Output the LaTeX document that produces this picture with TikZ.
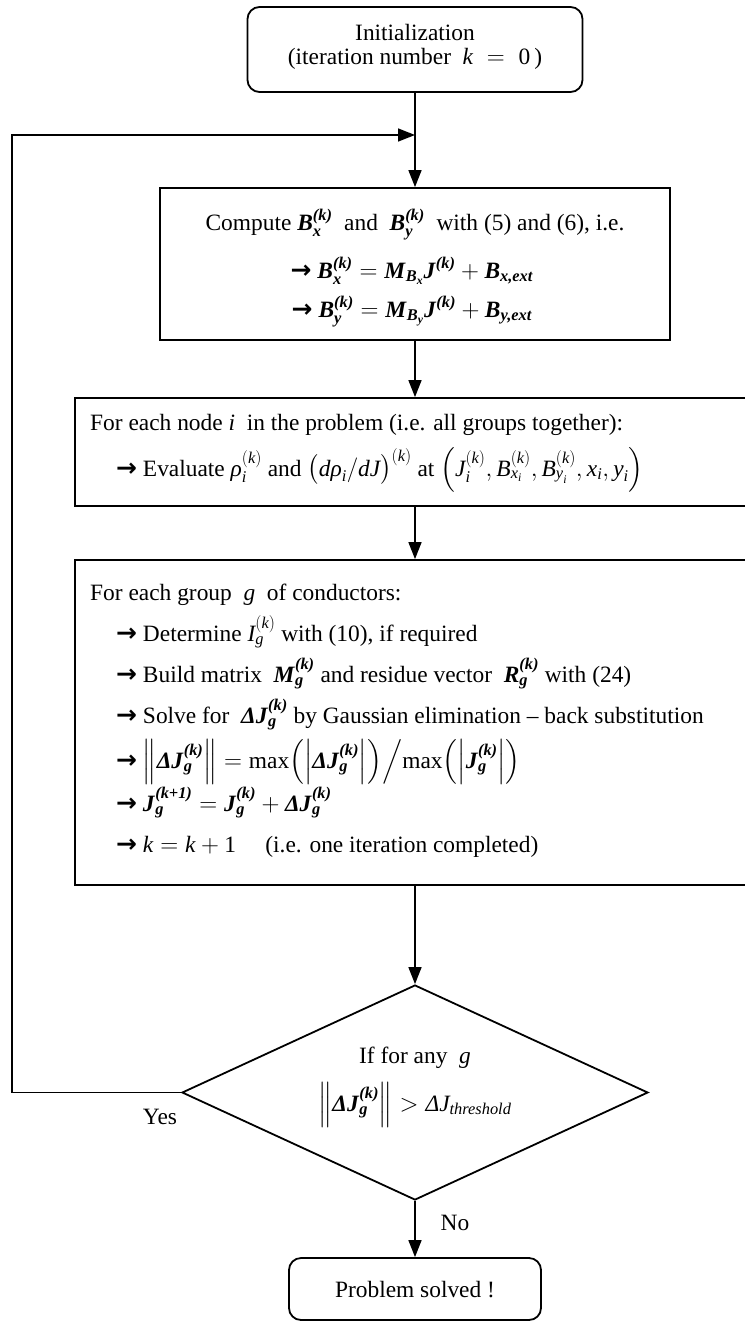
\documentclass[tikz,border=0pt]{standalone}
\usepackage{amsmath}
\usepackage{fontspec}
\setmainfont{Liberation Serif}
\newfontfamily\arrowfont{DejaVu Sans}
\usetikzlibrary{arrows.meta,shapes.geometric}
\newcommand{\bi}[1]{\textbf{\textit{#1}}}
\newcommand{\ti}[1]{\textit{#1}}
\newcommand{\rarr}{{\arrowfont\bfseries\fontsize{25}{25}\selectfont →}\ }
\begin{document}
\begin{tikzpicture}[x=1pt,y=-1pt,
  font=\fontsize{23.4}{25}\selectfont,
  box/.style={draw, line width=1.8pt, inner sep=0pt},
  rbox/.style={box, rounded corners=12pt},
  conn/.style={line width=1.5pt, -{Triangle[length=17pt,width=13pt]}},
  txt/.style={inner sep=0pt, anchor=base west},
  ctxt/.style={inner sep=0pt, anchor=base}]
\useasboundingbox (0,0) rectangle (744,1322);

% boxes
\node[rbox, minimum width=335pt, minimum height=85pt] (init) at (415,49.5) {};
\node[box, minimum width=510pt, minimum height=152pt] (comp) at (415,264) {};
\node[box, minimum width=680pt, minimum height=108pt] (eval) at (415,452) {};
\node[box, minimum width=680pt, minimum height=325pt] (grp) at (415,722.5) {};
\node[draw, diamond, line width=1.8pt, inner sep=0pt, minimum width=466pt, minimum height=215pt] (dec) at (415,1092.5) {};
\node[rbox, minimum width=252pt, minimum height=62pt] (done) at (415,1289) {};

% texts
\node[ctxt] (t1) at (415,41) {Initialization};
\node[ctxt] (t2) at (415,65) {(iteration number \ $\ti{k}\;=\;\textrm{0}$\,)};

\node[ctxt] (c1) at (415,230) {Compute $\bi{B}_{\bi{x}}^{\bi{(k)}}$ \ and \ $\bi{B}_{\bi{y}}^{\bi{(k)}}$ \ with (5) and (6), i.e.};
\node[ctxt] (c2) at (412,278) {\rarr$\bi{B}_{\bi{x}}^{\bi{(k)}} = \bi{M}_{\bi{B}_{\bi{x}}}\bi{J}^{\bi{(k)}} + \bi{B}_{\bi{x,ext}}$};
\node[ctxt] (c3) at (412,317) {\rarr$\bi{B}_{\bi{y}}^{\bi{(k)}} = \bi{M}_{\bi{B}_{\bi{y}}}\bi{J}^{\bi{(k)}} + \bi{B}_{\bi{y,ext}}$};

\node[txt] (e1) at (90,430) {For each node $\ti{i}$ \ in the problem (i.e. all groups together):};
\node[txt] (e2) at (116,476) {\rarr Evaluate $\ti{ρ}_{\ti{i}}^{(\ti{k})}$ and $\big(\ti{d}\ti{ρ}_{\ti{i}}/\ti{dJ}\big)^{(\ti{k})}$ at $\Big(\ti{J}_{\ti{i}}^{(\ti{k})},\ti{B}_{\ti{x}_{\ti{i}}}^{(\ti{k})},\ti{B}_{\ti{y}_{\ti{i}}}^{(\ti{k})},\ti{x}_{\ti{i}},\ti{y}_{\ti{i}}\Big)$};

\node[txt] (g1) at (90,600) {For each group \ $\ti{g}$ \ of conductors:};
\node[txt] (g2) at (116,641) {\rarr Determine $\ti{I}_{\ti{g}}^{(\ti{k})}$ with (10), if required};
\node[txt] (g3) at (116,682) {\rarr Build matrix \ $\bi{M}_{\bi{g}}^{\bi{(k)}}$ and residue vector \ $\bi{R}_{\bi{g}}^{\bi{(k)}}$ with (24)};
\node[txt] (g4) at (116,723) {\rarr Solve for \ $\bi{ΔJ}_{\bi{g}}^{\bi{(k)}}$ by Gaussian elimination – back substitution};
\node[txt] (g5) at (116,768) {\rarr $\Bigl\|\bi{ΔJ}_{\bi{g}}^{\bi{(k)}}\Bigr\| = \textrm{max}\Bigl(\Bigl|\bi{ΔJ}_{\bi{g}}^{\bi{(k)}}\Bigr|\Bigr)\Big/\textrm{max}\Bigl(\Bigl|\bi{J}_{\bi{g}}^{\bi{(k)}}\Bigr|\Bigr)$};
\node[txt] (g6) at (116,811) {\rarr $\bi{J}_{\bi{g}}^{\bi{(k+1)}} = \bi{J}_{\bi{g}}^{\bi{(k)}} + \bi{ΔJ}_{\bi{g}}^{\bi{(k)}}$};
\node[txt] (g7) at (116,852) {\rarr $\ti{k} = \ti{k} + \textrm{1}$ \quad (i.e. one iteration completed)};

\node[ctxt] (d1) at (415,1063) {If for any \ $\ti{g}$};
\node[ctxt] (d2) at (415,1111) {$\Bigl\|\bi{ΔJ}_{\bi{g}}^{\bi{(k)}}\Bigr\| > \ti{ΔJ}_{\ti{threshold}}$};

\node[ctxt] (yes) at (160,1124) {Yes};
\node[ctxt] (no) at (455,1230) {No};
\node[ctxt] (dn) at (415,1297) {Problem solved !};

% connectors
\coordinate (fb) at (12,1092.5);
\coordinate (join) at (415,135);
\draw[conn] (init.south) -- (comp.north);
\draw[conn] (comp.south) -- (eval.north);
\draw[conn] (eval.south) -- (grp.north);
\draw[conn] (grp.south) -- (dec.north);
\draw[conn] (dec.south) -- (done.north);
\draw[conn] (dec.west) -- (fb) |- (join);
\end{tikzpicture}
\end{document}
